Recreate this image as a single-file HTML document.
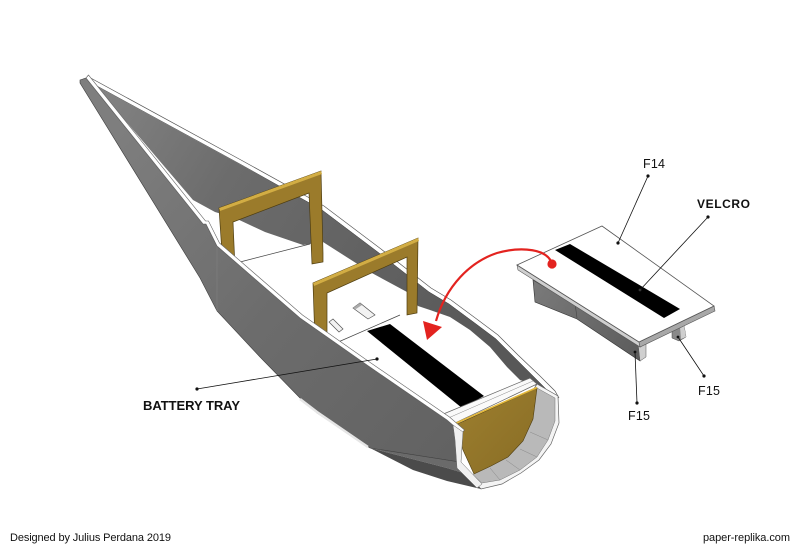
<!DOCTYPE html>
<html><head><meta charset="utf-8"><style>
html,body{margin:0;padding:0;background:#fff;}
svg{display:block;}
text{font-family:"Liberation Sans",Arial,sans-serif;fill:#111;}
</style></head><body>
<svg width="800" height="549" viewBox="0 0 800 549" xmlns="http://www.w3.org/2000/svg">
<defs>
<linearGradient id="gFar" gradientUnits="userSpaceOnUse" x1="90" y1="80" x2="500" y2="330">
<stop offset="0" stop-color="#858585"/><stop offset="0.35" stop-color="#6c6c6c"/><stop offset="1" stop-color="#585858"/>
</linearGradient>
<linearGradient id="gNear" gradientUnits="userSpaceOnUse" x1="100" y1="150" x2="460" y2="450">
<stop offset="0" stop-color="#7e7e7e"/><stop offset="0.5" stop-color="#6c6c6c"/><stop offset="1" stop-color="#626262"/>
</linearGradient>
<linearGradient id="gGold" gradientUnits="userSpaceOnUse" x1="455" y1="400" x2="530" y2="470">
<stop offset="0" stop-color="#9c7e2e"/><stop offset="1" stop-color="#8a6e26"/>
</linearGradient>
<linearGradient id="gSide" gradientUnits="userSpaceOnUse" x1="533" y1="285" x2="640" y2="355">
<stop offset="0" stop-color="#7a7a7a"/><stop offset="1" stop-color="#5c5c5c"/>
</linearGradient>
</defs>

<!-- far wall interior -->
<polygon points="86,78 240,162 323,208 380,251 430,290 450,302 477,322 497,337 517,357 537,377 553,393 557,400 556,424 550,424 537,386 520,380 507,367 490,347 470,330 450,317 430,310 418,306 407,292 370,272 323,242 303,245 265,232 235,218 215,212 193,200 94,84" fill="url(#gFar)"/>
<!-- far rim -->
<polyline points="86,78 240,162 323,208 380,251 430,290 450,302 477,322 497,337 517,357 537,377 553,393 557,400" fill="none" stroke="#fff" stroke-width="4" stroke-linejoin="round"/>
<polyline points="87,76 241,160 324,206 381,249 431,288 451,300 478,320 498,335 518,355 539,375 555,391 559,398" fill="none" stroke="#555" stroke-width="0.7"/>
<polyline points="86,80 240,164 322,210 379,253 429,292 449,304 476,324 496,339 516,359 536,379 552,395" fill="none" stroke="#444" stroke-width="0.5"/>

<!-- floor lines & slots -->
<line x1="240" y1="262" x2="310" y2="244" stroke="#444" stroke-width="0.7"/>
<line x1="336" y1="343" x2="400" y2="315" stroke="#444" stroke-width="0.7"/>
<polygon points="353,308 360,303 375,315 368,319" fill="#f2f2f2" stroke="#555" stroke-width="0.7"/>
<polygon points="353,308 360,303 362,305 356,309" fill="#aaa"/>
<polygon points="329,322 333,319 343,329 339,332" fill="#f2f2f2" stroke="#555" stroke-width="0.7"/>
<!-- velcro on tray -->
<polygon points="367,331 390,324 484,396 462,408" fill="#000"/>

<!-- frame 1 -->
<polygon points="219,208 321,171 323,253 323,262 312,264 309,193 233,222 235,268 223,268" fill="#9b7b2b" stroke="#4e3d10" stroke-width="0.7"/>
<polygon points="219,208 321,171 322,174 220,211" fill="#d2ad44"/>
<!-- frame 2 -->
<polygon points="313,283 418,238 417,313 407,315 407,257 327,293 327,342 315,342" fill="#9b7b2b" stroke="#4e3d10" stroke-width="0.7"/>
<polygon points="313,283 418,238 419,241 314,286" fill="#d2ad44"/>

<!-- rear rim, ring, gold bulkhead -->
<polygon points="537,384 558,396 559,423 551,444 539,460 521,473 502,484 481,489 474,482" fill="#f4f4f4" stroke="#666" stroke-width="0.7"/>
<polygon points="537,388 555,398 555,421 548,440 537,457 520,470 500,480 482,483 473,475" fill="#b9b9b9" stroke="#777" stroke-width="0.5"/>
<line x1="548" y1="440" x2="530" y2="432" stroke="#888" stroke-width="0.5"/>
<line x1="537" y1="457" x2="520" y2="449" stroke="#888" stroke-width="0.5"/>
<line x1="520" y1="470" x2="506" y2="460" stroke="#888" stroke-width="0.5"/>
<line x1="500" y1="480" x2="490" y2="468" stroke="#888" stroke-width="0.5"/>
<polygon points="455,425 537,388 533,419 523,441 508,457 491,466 474,474 463,450" fill="url(#gGold)" stroke="#4e3d10" stroke-width="0.6"/>
<!-- crossbar -->
<polygon points="441,415 530,378 537,384 453,424" fill="#fafafa" stroke="#666" stroke-width="0.7"/>
<line x1="446" y1="419" x2="533" y2="381" stroke="#888" stroke-width="0.5"/>
<line x1="453" y1="424.5" x2="537" y2="387.5" stroke="#e3b83a" stroke-width="1.6"/>

<!-- bottom hull -->
<polygon points="370,448 460,462 470,475 447,468" fill="#6a6a6a"/>
<polygon points="370,448 447,468 470,475 481,489 447,481 413,470" fill="#4b4b4b"/>

<!-- near wall outside face -->
<polygon points="80,80 86,78 203,224 206,224 217,246 300,318 367,365 447,420 462,433 460,462 370,448 317,413 300,398 260,357 217,311 200,278 80,83" fill="url(#gNear)" stroke="#3e3e3e" stroke-width="0.6"/>
<line x1="217" y1="246" x2="217" y2="311" stroke="#808080" stroke-width="0.6"/>
<!-- near rim strip -->
<polygon points="86,78 203,224 206,224 217,246 300,318 367,365 447,420 462,433 464.5,430 449.5,417 369.5,362 302.5,315 219.5,243 208.5,221 205.5,221 88.5,75" fill="#fff" stroke="#666" stroke-width="0.6"/>
<!-- near wall rear cap -->
<polygon points="453,425 463,432 461,462 482,484 477,488 457,468 455,440" fill="#f0f0f0" stroke="#666" stroke-width="0.5"/>
<!-- bevel strips -->
<polyline points="300,399 317,412 368,447" fill="none" stroke="#e6e6e6" stroke-width="2.5"/>

<!-- F14 tray assembly -->
<polygon points="533,280 640,343 640,361 577,319 535,302" fill="url(#gSide)" stroke="#333" stroke-width="0.6"/>
<line x1="575" y1="303" x2="577" y2="318" stroke="#444" stroke-width="0.6"/>
<polygon points="638,343 646,342 646,357 640,361" fill="#cfcfcf" stroke="#555" stroke-width="0.5"/>
<polygon points="672,330 684,325 686,337 679,341 672,338" fill="#8a8a8a" stroke="#444" stroke-width="0.5"/>
<polygon points="680,327 684,325 686,337 681,339" fill="#cfcfcf"/>
<polygon points="517,265 639,342 640,347 518,270" fill="#cfcfcf" stroke="#555" stroke-width="0.6"/>
<polygon points="639,342 714,306 715,311 640,347" fill="#a8a8a8" stroke="#555" stroke-width="0.6"/>
<polygon points="517,265 602,226 714,306 639,342" fill="#fff" stroke="#555" stroke-width="0.8"/>
<polygon points="555,250 570,244 680,309 664,318" fill="#000"/>

<!-- red arrow -->
<path d="M552,264 C548,249 522,246 497,253 C470,262 446,286 436,321" fill="none" stroke="#e3231f" stroke-width="2.2"/>
<polygon points="427,340 423,321 442,327" fill="#e3231f"/>
<circle cx="552" cy="264" r="4.6" fill="#e3231f"/>

<!-- leaders -->
<g stroke="#111" stroke-width="0.8">
<line x1="648" y1="176" x2="618" y2="243"/>
<line x1="708" y1="217" x2="640" y2="290"/>
<line x1="678" y1="337" x2="704" y2="376"/>
<line x1="635" y1="352" x2="637" y2="403"/>
<line x1="197" y1="389" x2="377" y2="359"/>
</g>
<g fill="#111">
<circle cx="648" cy="176" r="1.6"/><circle cx="618" cy="243" r="1.6"/>
<circle cx="708" cy="217" r="1.6"/><circle cx="640" cy="290" r="1.4" fill="#333"/>
<circle cx="704" cy="376" r="1.6"/><circle cx="678" cy="337" r="1.4"/>
<circle cx="637" cy="403" r="1.6"/><circle cx="635" cy="352" r="1.4"/>
<circle cx="197" cy="389" r="1.6"/><circle cx="377" cy="359" r="1.6"/>
</g>

<!-- labels -->
<text x="643" y="168" font-size="12.5" textLength="22">F14</text>
<text x="697" y="208" font-size="12" font-weight="bold" textLength="53">VELCRO</text>
<text x="698" y="395" font-size="12.5" textLength="22">F15</text>
<text x="628" y="420" font-size="12.5" textLength="22">F15</text>
<text x="143" y="410" font-size="13" font-weight="bold" textLength="97">BATTERY TRAY</text>
<text x="10" y="541" font-size="11" textLength="161">Designed by Julius Perdana 2019</text>
<text x="703" y="541" font-size="11" textLength="87">paper-replika.com</text>
</svg>
</body></html>
